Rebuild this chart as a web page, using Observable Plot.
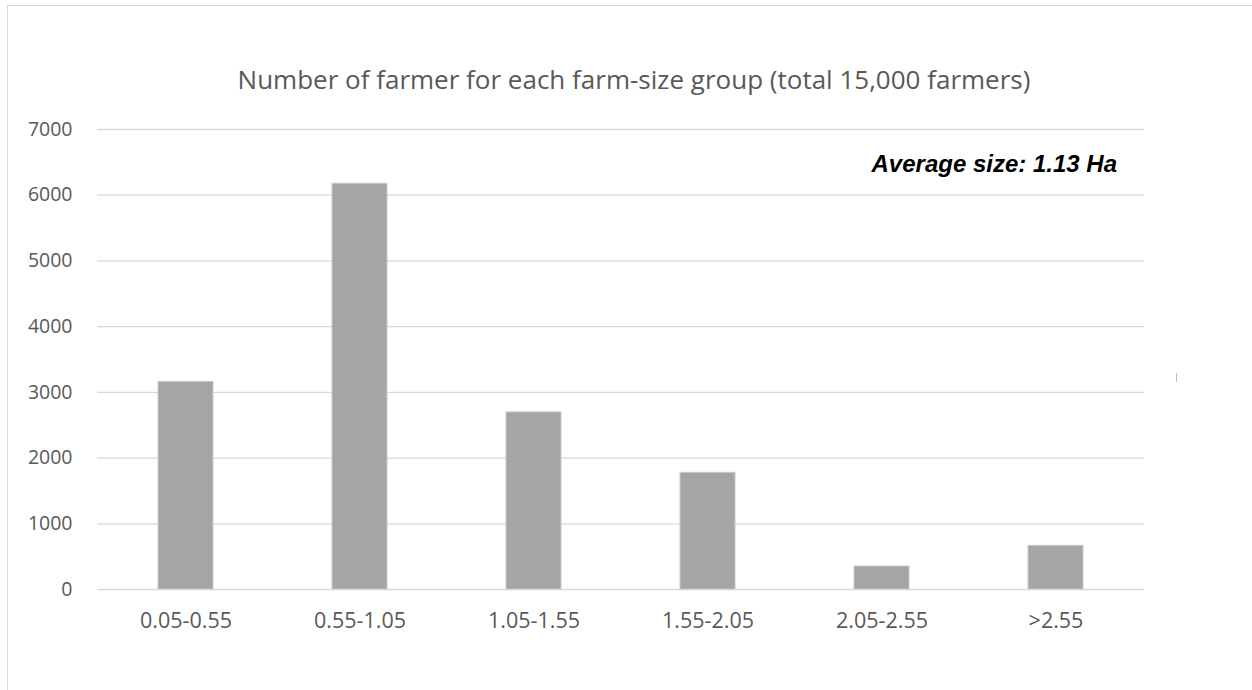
<!DOCTYPE html>
<html>
<head>
<meta charset="utf-8">
<script src="https://cdn.jsdelivr.net/npm/d3@7"></script>
<script src="https://cdn.jsdelivr.net/npm/@observablehq/plot@0.6"></script>
<style>
  html, body { margin: 0; padding: 0; background: #ffffff; }
  #wrap { position: relative; width: 1252px; height: 690px; overflow: hidden; background: #fff; }
  #frame { position: absolute; left: 7px; top: 5px; width: 1300px; height: 800px;
           border-left: 1px solid #d9d9d9; border-top: 1px solid #d9d9d9; box-sizing: border-box; }
  #title { position: absolute; left: 634px; top: 66px; transform: translateX(-50%);
           white-space: nowrap; font-family: "Open Sans", sans-serif; font-size: 26px;
           line-height: 1; color: #595959; }
  #note { position: absolute; right: calc(1252px - 1117px); top: 152px; white-space: nowrap;
          font-family: "Liberation Sans", Arial, sans-serif; font-weight: bold; font-style: italic;
          font-size: 24px; line-height: 1; color: #000; }
  #mark { position: absolute; left: 1176px; top: 373px; width: 1px; height: 9px; background: #bfbfbf; }
  #chart { position: absolute; left: 0; top: 0; }
</style>
</head>
<body>
<div id="wrap">
  <div id="frame"></div>
  <div id="chart"></div>
  <div id="title"></div>
  <div id="note"></div>
  <div id="mark"></div>
</div>
<script>
const titleText = "Number of farmer for each farm-size group (total 15,000 farmers)";
const noteText = "Average size: 1.13 Ha";
const groups = ["0.05-0.55", "0.55-1.05", "1.05-1.55", "1.55-2.05", "2.05-2.55", ">2.55"];
const farmers = [3160, 6175, 2695, 1775, 350, 665];
const yTicks = [0, 1000, 2000, 3000, 4000, 5000, 6000, 7000];

const data = groups.map((g, i) => ({group: g, count: farmers[i]}));

document.getElementById("title").textContent = titleText;
document.getElementById("note").textContent = noteText;

const chart = Plot.plot({
  width: 1252,
  height: 690,
  marginLeft: 97,
  marginRight: 108,
  marginTop: 129,
  marginBottom: 101,
  style: { fontFamily: "'Open Sans', sans-serif", fontSize: "21.5px", color: "#595959", background: "transparent", overflow: "visible" },
  x: { domain: groups, paddingInner: 0.685, paddingOuter: 0.3425, label: null },
  y: { domain: [0, 7000], label: null },
  marks: [
    Plot.gridY(yTicks, { stroke: "#d9d9d9", strokeOpacity: 1, strokeWidth: 1.3 }),
    Plot.barY(data, { x: "group", y: "count", fill: "#a5a5a5", stroke: "#c9c9c9", strokeWidth: 1 }),
    Plot.axisY(yTicks, { tickSize: 0, tickPadding: 25, label: null, fill: "#595959", fontSize: 19.5, tickFormat: d => String(d) }),
    Plot.axisX({ tickSize: 0, tickPadding: 23, label: null, fill: "#595959", fontSize: 21.5 })
  ]
});
document.getElementById("chart").appendChild(chart);
</script>
</body>
</html>
